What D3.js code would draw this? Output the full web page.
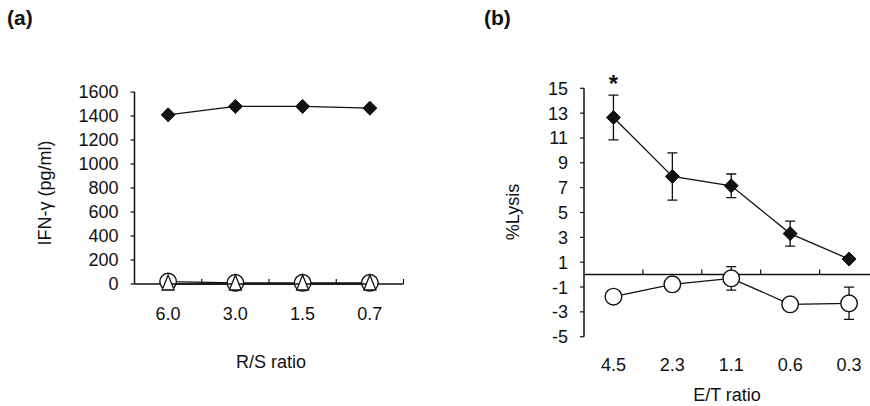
<!DOCTYPE html>
<html>
<head>
<meta charset="UTF-8">
<style>
body { margin: 0; background: #fff; }
svg text { font-family: "Liberation Sans", Arial, sans-serif; fill: #111; }
</style>
</head>
<body>
<svg id="chart"></svg>
<script src="https://d3js.org/d3.v7.min.js"></script>
<script>
// panel (a): IFN-gamma vs R/S ratio
const rsRatios = ["6.0", "3.0", "1.5", "0.7"];
const ifnDiamond = [1410, 1480, 1480, 1465];
const ifnCircle = [20, 10, 10, 10];
const ifnTriangle = [0, 0, 0, 0];
const ifnTicks = [0, 200, 400, 600, 800, 1000, 1200, 1400, 1600];

// panel (b): %Lysis vs E/T ratio
const etRatios = ["4.5", "2.3", "1.1", "0.6", "0.3"];
const lysisDiamond = [12.65, 7.9, 7.15, 3.3, 1.25];
const lysisDiamondErr = [1.8, 1.9, 0.95, 1.0, 0];
const lysisCircle = [-1.78, -0.78, -0.3, -2.39, -2.31];
const lysisCircleErr = [0, 0.55, 0.95, 0, 1.3];
const lysisTicks = [-5, -3, -1, 1, 3, 5, 7, 9, 11, 13, 15];

const width = 870, height = 406;
const svg = d3.select("#chart").attr("width", width).attr("height", height);

const fontSize = 18;
const diamond = d3.symbol().type(d3.symbolDiamond2).size(125);

function drawYAxis(g, y, x0, ticks) {
  g.append("line")
    .attr("x1", x0).attr("x2", x0)
    .attr("y1", y(ticks[ticks.length - 1])).attr("y2", y(ticks[0]))
    .attr("stroke", "#111").attr("stroke-width", 1.5);
  g.selectAll(".yt").data(ticks).enter().append("line")
    .attr("x1", x0 - 4).attr("x2", x0)
    .attr("y1", d => y(d)).attr("y2", d => y(d))
    .attr("stroke", "#111").attr("stroke-width", 1.2);
  g.selectAll(".yl").data(ticks).enter().append("text")
    .attr("x", x0 - 16).attr("y", d => y(d))
    .attr("dy", "0.36em")
    .attr("text-anchor", "end")
    .style("font-size", fontSize + "px")
    .text(d => d);
}

function drawXAxis(g, x, yPos, cats, labelY) {
  const r = x.range();
  g.append("line")
    .attr("x1", r[0]).attr("x2", r[1])
    .attr("y1", yPos).attr("y2", yPos)
    .attr("stroke", "#111").attr("stroke-width", 1.5);
  // tick marks on band boundaries, pointing up
  const bounds = cats.slice(1).map(c => x(c)).concat([r[1]]);
  g.selectAll(".xt").data(bounds).enter().append("line")
    .attr("x1", d => d).attr("x2", d => d)
    .attr("y1", yPos - 5).attr("y2", yPos)
    .attr("stroke", "#111").attr("stroke-width", 1.2);
  g.selectAll(".xl").data(cats).enter().append("text")
    .attr("x", d => x(d) + x.bandwidth() / 2)
    .attr("y", labelY)
    .attr("text-anchor", "middle")
    .style("font-size", fontSize + "px")
    .text(d => d);
}

function drawSeries(g, x, y, cats, vals, kind, errs) {
  const pts = cats.map((c, i) => ({ x: x(c) + x.bandwidth() / 2, v: vals[i], e: errs ? errs[i] : 0 }));
  g.append("path")
    .attr("d", d3.line().x(d => d.x).y(d => y(d.v))(pts))
    .attr("fill", "none").attr("stroke", "#111").attr("stroke-width", 1.3);
  const eb = pts.filter(d => d.e > 0);
  g.selectAll(null).data(eb).enter().append("path")
    .attr("d", d => {
      const t = y(d.v + d.e), b = y(d.v - d.e);
      return `M${d.x},${t}V${b}M${d.x - 5},${t}H${d.x + 5}M${d.x - 5},${b}H${d.x + 5}`;
    })
    .attr("fill", "none").attr("stroke", "#111").attr("stroke-width", 1.3);
  if (kind === "diamond") {
    g.selectAll(null).data(pts).enter().append("path")
      .attr("d", diamond)
      .attr("transform", d => `translate(${d.x},${y(d.v)})`)
      .attr("fill", "#111").attr("stroke", "#111").attr("stroke-width", 1);
  } else if (kind === "circle") {
    g.selectAll(null).data(pts).enter().append("circle")
      .attr("cx", d => d.x).attr("cy", d => y(d.v)).attr("r", 8.3)
      .attr("fill", "#fff").attr("stroke", "#111").attr("stroke-width", 1.4);
  } else if (kind === "triangle") {
    g.selectAll(null).data(pts).enter().append("path")
      .attr("d", d => {
        const cy = y(d.v);
        return `M${d.x},${cy - 9}L${d.x + 6},${cy + 6}L${d.x - 6},${cy + 6}Z`;
      })
      .attr("fill", "#fff").attr("stroke", "#111").attr("stroke-width", 1.3);
  }
}

// ---- panel (a)
const ga = svg.append("g");
const xa = d3.scaleBand().domain(rsRatios).range([134.5, 403.5]).padding(0);
const ya = d3.scaleLinear().domain([0, 1600]).range([284, 92]);
drawYAxis(ga, ya, 134.5, ifnTicks);
drawXAxis(ga, xa, ya(0), rsRatios, 320);
drawSeries(ga, xa, ya, rsRatios, ifnCircle, "circle");
drawSeries(ga, xa, ya, rsRatios, ifnTriangle, "triangle");
drawSeries(ga, xa, ya, rsRatios, ifnDiamond, "diamond");

ga.append("text")
  .attr("transform", "translate(51,193) rotate(-90)")
  .attr("text-anchor", "middle")
  .style("font-size", fontSize + "px")
  .text("IFN-γ (pg/ml)");
ga.append("text")
  .attr("x", 271).attr("y", 368)
  .attr("text-anchor", "middle")
  .style("font-size", fontSize + "px")
  .text("R/S ratio");
ga.append("text")
  .attr("x", 7).attr("y", 25)
  .style("font-size", "21px").style("font-weight", "bold")
  .text("(a)");

// ---- panel (b)
const gb = svg.append("g");
const xb = d3.scaleBand().domain(etRatios).range([584, 878.5]).padding(0);
const yb = d3.scaleLinear().domain([-5, 15]).range([336.7, 88.3]);
drawYAxis(gb, yb, 584, lysisTicks);
drawXAxis(gb, xb, yb(0), etRatios, 371);
drawSeries(gb, xb, yb, etRatios, lysisDiamond, "diamond", lysisDiamondErr);
drawSeries(gb, xb, yb, etRatios, lysisCircle, "circle", lysisCircleErr);

gb.append("text")
  .attr("transform", "translate(519,212) rotate(-90)")
  .attr("text-anchor", "middle")
  .style("font-size", fontSize + "px")
  .text("%Lysis");
gb.append("text")
  .attr("x", 727).attr("y", 401)
  .attr("text-anchor", "middle")
  .style("font-size", fontSize + "px")
  .text("E/T ratio");
gb.append("text")
  .attr("x", xb("4.5") + xb.bandwidth() / 2).attr("y", 92)
  .attr("text-anchor", "middle")
  .style("font-size", "24px").style("font-weight", "bold")
  .text("*");
gb.append("text")
  .attr("x", 484).attr("y", 25)
  .style("font-size", "21px").style("font-weight", "bold")
  .text("(b)");
</script>
</body>
</html>
